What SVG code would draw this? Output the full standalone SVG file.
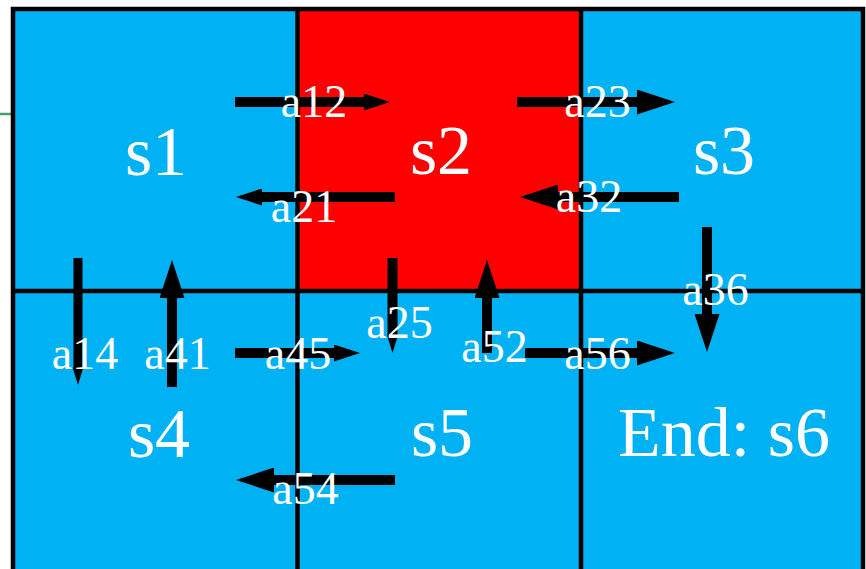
<svg xmlns="http://www.w3.org/2000/svg" width="866" height="569" viewBox="0 0 866 569">
<style>
.cell{fill:#00B2F4}
.red{fill:#FF0000}
.grid{stroke:#000;stroke-width:4.5;fill:none}
.big{font-family:"Liberation Serif","Times New Roman",serif;font-size:70px;fill:#fff;text-anchor:middle}
.lbl{font-family:"Liberation Serif","Times New Roman",serif;font-size:46px;fill:#fff;text-anchor:middle}
.arr{stroke:#000;stroke-width:10;fill:none}
</style>
<defs>
<marker id="hb" markerUnits="userSpaceOnUse" markerWidth="38" markerHeight="25" viewBox="0 0 38 25" refX="1" refY="12.5" orient="auto"><path d="M0,0 L38,12.5 L0,25 z" fill="#000"/></marker>
<marker id="hs" markerUnits="userSpaceOnUse" markerWidth="26" markerHeight="17" viewBox="0 0 26 17" refX="1" refY="8.5" orient="auto"><path d="M0,0 L26,8.5 L0,17 z" fill="#000"/></marker>
<marker id="ht" markerUnits="userSpaceOnUse" markerWidth="18" markerHeight="11" viewBox="0 0 18 11" refX="1" refY="5.5" orient="auto"><path d="M0,0 L18,5.5 L0,11 z" fill="#000"/></marker>
</defs>
<rect width="866" height="569" fill="#fff"/>
<line x1="0" y1="114" x2="12" y2="114" stroke="#4c9a6c" stroke-width="2.5"/>
<g id="s1"><rect class="cell" x="13" y="9" width="284.5" height="282"/><text class="big" x="156" y="175">s1</text></g>
<g id="s2"><rect class="red" x="297.5" y="9" width="283.5" height="282"/><text class="big" x="441" y="174">s2</text></g>
<g id="s3"><rect class="cell" x="581" y="9" width="282" height="282"/><text class="big" x="724" y="174">s3</text></g>
<g id="s4"><rect class="cell" x="13" y="291" width="284.5" height="300"/><text class="big" x="159" y="457">s4</text></g>
<g id="s5"><rect class="cell" x="297.5" y="291" width="283.5" height="300"/><text class="big" x="442" y="456">s5</text></g>
<g id="s6"><rect class="cell" x="581" y="291" width="282" height="300"/><text class="big" x="724" y="456">End: s6</text></g>
<g id="grid" class="grid">
<rect x="13" y="9" width="850" height="600"/>
<line x1="297.5" y1="9" x2="297.5" y2="569"/>
<line x1="581" y1="9" x2="581" y2="569"/>
<line x1="13" y1="291" x2="863" y2="291"/>
</g>
<g id="connectors" class="arr">
<line id="a12" x1="235" y1="102" x2="365" y2="102" marker-end="url(#hs)"/>
<line id="a21" x1="395" y1="197" x2="261" y2="197" marker-end="url(#hs)"/>
<line id="a23" x1="517" y1="102" x2="638" y2="102" marker-end="url(#hb)"/>
<line id="a32" x1="679" y1="197" x2="557" y2="197" marker-end="url(#hb)"/>
<line id="a36" x1="707" y1="227" x2="707" y2="315" marker-end="url(#hb)"/>
<line id="a14" x1="78" y1="258" x2="78" y2="368" stroke-width="9" marker-end="url(#ht)"/>
<line id="a41" x1="172" y1="387" x2="172" y2="297" marker-end="url(#hb)"/>
<line id="a45" x1="235" y1="353" x2="335" y2="353" marker-end="url(#hs)"/>
<line id="a25" x1="392.5" y1="258" x2="392.5" y2="336" marker-end="url(#ht)"/>
<line id="a52" x1="487" y1="353" x2="487" y2="297" marker-end="url(#hb)"/>
<line id="a56" x1="525" y1="353" x2="638" y2="353" marker-end="url(#hb)"/>
<line id="a54" x1="395" y1="480" x2="273" y2="480" marker-end="url(#hb)"/>
</g>
<g id="connector-labels" class="lbl">
<text x="314" y="117">a12</text>
<text x="304" y="222">a21</text>
<text x="597.5" y="117">a23</text>
<text x="589" y="212">a32</text>
<text x="715.5" y="305">a36</text>
<text x="85" y="369">a14</text>
<text x="177.5" y="369">a41</text>
<text x="298" y="369">a45</text>
<text x="399.5" y="338">a25</text>
<text x="494.5" y="362">a52</text>
<text x="597.5" y="369">a56</text>
<text x="305.5" y="504">a54</text>
</g>
</svg>
